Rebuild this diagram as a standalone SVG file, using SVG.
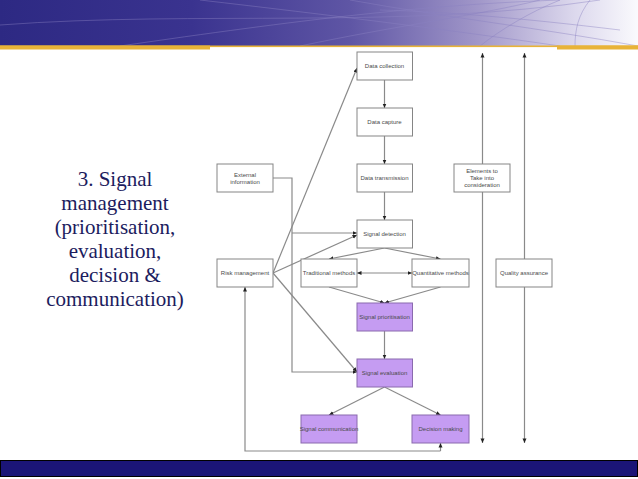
<svg xmlns="http://www.w3.org/2000/svg" width="638" height="479" viewBox="0 0 638 479">
<defs>
<linearGradient id="hdr" x1="0" y1="0" x2="1" y2="0">
<stop offset="0" stop-color="#2d2983"/>
<stop offset="0.3" stop-color="#3a338f"/>
<stop offset="0.55" stop-color="#5f56a5"/>
<stop offset="0.75" stop-color="#a197c9"/>
<stop offset="0.9" stop-color="#dcd8ed"/>
<stop offset="1" stop-color="#fafafd"/>
</linearGradient>
<marker id="ah" markerUnits="userSpaceOnUse" markerWidth="6" markerHeight="6" refX="4.5" refY="3" orient="auto">
<path d="M0,1 L4.5,3 L0,5 Z" fill="#222"/>
</marker>
<marker id="ahs" markerUnits="userSpaceOnUse" markerWidth="6" markerHeight="6" refX="0" refY="3" orient="auto">
<path d="M4.5,1 L0,3 L4.5,5 Z" fill="#222"/>
</marker>
</defs>
<style>
.box{fill:#fff;stroke:#858585;stroke-width:1}
.pbox{fill:#c59cf2;stroke:#8a6aae;stroke-width:1}
.lbl{font-family:"Liberation Sans",Arial,sans-serif;font-size:6px;fill:#4a4a4a;text-anchor:middle}
.c{fill:none;stroke:#8a8a8a;stroke-width:1.2}
.title{font-family:"Liberation Serif","Times New Roman",serif;font-size:21px;fill:#1c1c5e;text-anchor:middle}
.deco{fill:none;stroke:#8a80c0;stroke-width:0.8;opacity:0.55}
</style>
<rect width="638" height="479" fill="#fff"/>
<g id="header">
<rect x="0" y="0" width="638" height="46" fill="url(#hdr)"/>
<path class="deco" d="M120,46 C300,20 420,5 560,0"/>
<path class="deco" d="M200,0 C330,15 450,30 560,46"/>
<path class="deco" d="M0,25 C200,10 400,30 600,0"/>
<path class="deco" d="M300,46 C400,25 480,15 540,0"/>
<path class="deco" d="M480,46 C500,30 530,12 560,0"/>
<path class="deco" d="M350,0 C450,18 540,28 638,46"/>
<path class="deco" d="M590,0 C578,15 575,30 575,46"/>
<path class="deco" d="M380,10 C450,12 520,18 620,30"/>
<rect x="0" y="45.5" width="638" height="1.6" fill="#e8b338"/>
<rect x="0" y="45.5" width="210" height="4" fill="#e8b338"/>
<rect x="557" y="45.5" width="81" height="4" fill="#e8b338"/>
</g>
<g id="footer">
<rect x="0.5" y="460.5" width="637" height="16" fill="#1b1577" stroke="#000" stroke-width="1"/>
</g>
<g id="title">
<text class="title" x="115" y="186">3. Signal</text>
<text class="title" x="115" y="210">management</text>
<text class="title" x="115" y="234">(prioritisation,</text>
<text class="title" x="115" y="258">evaluation,</text>
<text class="title" x="115" y="282">decision &amp;</text>
<text class="title" x="115" y="306">communication)</text>
</g>
<g id="connectors">
<line class="c" x1="384.5" y1="80" x2="384.5" y2="108" marker-end="url(#ah)"/>
<line class="c" x1="384.5" y1="136" x2="384.5" y2="164" marker-end="url(#ah)"/>
<line class="c" x1="384.5" y1="192" x2="384.5" y2="220" marker-end="url(#ah)"/>
<polyline class="c" points="273,178 292,178 292,372 357,372" marker-end="url(#ah)"/>
<line class="c" x1="292" y1="233" x2="357" y2="233" marker-end="url(#ah)"/>
<line class="c" x1="273" y1="273" x2="357" y2="68" marker-end="url(#ah)"/>
<line class="c" x1="273" y1="273" x2="357" y2="235" marker-end="url(#ah)"/>
<line class="c" x1="273" y1="273" x2="357" y2="372" marker-end="url(#ah)"/>
<line class="c" x1="384.5" y1="248" x2="329" y2="259" marker-end="url(#ah)"/>
<line class="c" x1="384.5" y1="248" x2="440.5" y2="259" marker-end="url(#ah)"/>
<line class="c" x1="357" y1="273" x2="412" y2="273" marker-start="url(#ahs)" marker-end="url(#ah)"/>
<line class="c" x1="329" y1="287" x2="384.5" y2="303" marker-end="url(#ah)"/>
<line class="c" x1="440.5" y1="287" x2="384.5" y2="303" marker-end="url(#ah)"/>
<line class="c" x1="384.5" y1="331" x2="384.5" y2="359" marker-end="url(#ah)"/>
<line class="c" x1="384.5" y1="387" x2="329" y2="415" marker-end="url(#ah)"/>
<line class="c" x1="384.5" y1="387" x2="440.5" y2="415" marker-end="url(#ah)"/>
<line class="c" x1="440.5" y1="451" x2="440.5" y2="443" marker-end="url(#ah)"/>
<polyline class="c" points="440.5,451 245,451 245,287" marker-end="url(#ah)"/>
<line class="c" x1="482.5" y1="443" x2="482.5" y2="53" marker-start="url(#ahs)" marker-end="url(#ah)"/>
<line class="c" x1="524.5" y1="443" x2="524.5" y2="53" marker-start="url(#ahs)" marker-end="url(#ah)"/>
</g>
<g id="data-collection"><rect class="box" x="357" y="52" width="55.5" height="28"/><text class="lbl" x="384.5" y="68">Data collection</text></g>
<g id="data-capture"><rect class="box" x="357" y="108" width="55.5" height="28"/><text class="lbl" x="384.5" y="124">Data capture</text></g>
<g id="data-transmission"><rect class="box" x="357" y="164" width="55.5" height="28"/><text class="lbl" x="384.5" y="180">Data transmission</text></g>
<g id="external-information"><rect class="box" x="217" y="164" width="56" height="28"/><text class="lbl" x="245" y="176.5">External</text><text class="lbl" x="245" y="183.5">information</text></g>
<g id="signal-detection"><rect class="box" x="357" y="220" width="55.5" height="28"/><text class="lbl" x="384.5" y="236">Signal detection</text></g>
<g id="risk-management"><rect class="box" x="217" y="259" width="56" height="28"/><text class="lbl" x="245" y="275">Risk management</text></g>
<g id="traditional-methods"><rect class="box" x="301" y="259" width="56" height="28"/><text class="lbl" x="329" y="275">Traditional methods</text></g>
<g id="quantitative-methods"><rect class="box" x="412" y="259" width="57" height="28"/><text class="lbl" x="440.5" y="275">Quantitative methods</text></g>
<g id="elements"><rect class="box" x="454" y="164" width="56" height="28"/><text class="lbl" x="482" y="173">Elements to</text><text class="lbl" x="482" y="180">Take into</text><text class="lbl" x="482" y="187">consideration</text></g>
<g id="quality-assurance"><rect class="box" x="496" y="259" width="56" height="28"/><text class="lbl" x="524" y="275">Quality assurance</text></g>
<g id="signal-prioritisation"><rect class="pbox" x="357" y="303" width="55.5" height="28"/><text class="lbl" x="384.5" y="319">Signal prioritisation</text></g>
<g id="signal-evaluation"><rect class="pbox" x="357" y="359" width="55.5" height="28"/><text class="lbl" x="384.5" y="375">Signal evaluation</text></g>
<g id="signal-communication"><rect class="pbox" x="301" y="415" width="56" height="28"/><text class="lbl" x="329" y="431">Signal communication</text></g>
<g id="decision-making"><rect class="pbox" x="412" y="415" width="57" height="28"/><text class="lbl" x="440.5" y="431">Decision making</text></g>
</svg>
